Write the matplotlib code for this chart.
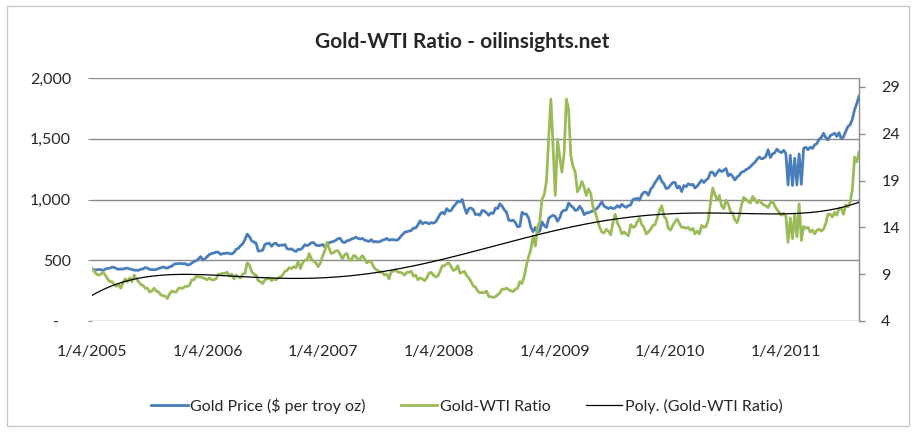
import numpy as np
import pandas as pd
import matplotlib
matplotlib.use("Agg")
import matplotlib.pyplot as plt
from matplotlib.patches import Rectangle
from matplotlib.ticker import FixedLocator, FuncFormatter

# Weekly observations, Tuesday closes, starting 1/4/2005
start_date = "2005-01-04"

# Gold price, $ per troy oz
gold_2005 = [428, 422, 421, 424, 423, 414, 427, 433, 435, 443, 441, 431, 426,
             428, 427, 433, 435, 428, 425, 418, 418, 417, 426, 428, 440, 436,
             424, 423, 422, 424, 432, 437, 445, 439, 434, 446, 451, 468, 471,
             472, 474, 470, 472, 462, 463, 477, 489, 495, 511, 530, 501, 513]
gold_2006 = [530, 548, 555, 560, 568, 566, 548, 555, 556, 560, 555, 552, 563,
             590, 598, 620, 636, 670, 715, 695, 660, 650, 640, 575, 578, 582,
             630, 638, 640, 615, 636, 640, 620, 624, 623, 630, 595, 590, 594,
             580, 572, 590, 588, 603, 628, 620, 629, 645, 645, 625, 620, 622]
gold_2007 = [630, 610, 628, 645, 650, 655, 665, 678, 680, 650, 646, 660, 663,
             675, 680, 690, 680, 675, 680, 665, 660, 655, 670, 650, 655, 650,
             655, 665, 670, 680, 665, 670, 670, 665, 668, 690, 710, 730, 735,
             740, 745, 765, 765, 790, 825, 800, 810, 810, 800, 810, 805, 815]
gold_2008 = [845, 880, 895, 880, 925, 905, 910, 940, 960, 985, 980, 1000, 935,
             885, 925, 930, 915, 875, 880, 870, 910, 905, 890, 870, 890, 885,
             930, 925, 965, 945, 915, 895, 830, 825, 830, 810, 775, 780, 895, 880,
             880, 845, 770, 735, 770, 730, 740, 815, 785, 770, 845, 860, 870]
gold_2009 = [860, 820, 850, 900, 910, 915, 970, 950, 935, 910, 915, 945, 920,
             875, 890, 890, 900, 905, 915, 930, 955, 980, 945, 935, 925, 935,
             925, 930, 950, 935, 960, 945, 935, 950, 955, 1000, 1005, 1010, 995,
             1040, 1060, 1060, 1035, 1085, 1105, 1140, 1165, 1195, 1150, 1130, 1090, 1095]
gold_2010 = [1120, 1140, 1140, 1095, 1110, 1065, 1115, 1105, 1130, 1120, 1125, 1095, 1110,
             1135, 1160, 1140, 1160, 1175, 1225, 1225, 1195, 1220, 1245, 1230, 1240, 1255,
             1195, 1210, 1190, 1160, 1185, 1200, 1225, 1230, 1245, 1255, 1270, 1290, 1305,
             1330, 1350, 1335, 1340, 1355, 1410, 1345, 1375, 1385, 1415, 1395, 1385, 1405]
gold_2011 = [1380, 1120, 1365, 1115, 1340, 1120, 1375, 1125, 1420, 1430, 1410, 1430, 1420,
             1450, 1460, 1495, 1510, 1545, 1510, 1490, 1525, 1535, 1545, 1520, 1550, 1500,
             1515, 1560, 1600, 1615, 1660, 1740, 1790, 1850]

# Gold-WTI ratio (gold price over WTI crude price per barrel)
ratio_2005 = [9.6, 9.3, 9.0, 8.9, 9.0, 9.2, 8.9, 8.5, 8.2, 8.2, 7.9, 7.7, 7.9,
              7.5, 8.1, 8.5, 8.2, 8.6, 8.2, 8.9, 8.5, 8.2, 7.9, 7.8, 7.5, 7.5,
              7.1, 7.2, 7.5, 7.2, 7.1, 6.8, 6.7, 6.65, 6.4, 6.9, 7.2, 7.1, 7.1,
              7.5, 7.5, 7.5, 7.7, 7.7, 7.8, 8.4, 8.4, 8.8, 8.7, 8.7, 8.6, 8.55]
ratio_2006 = [8.4, 8.6, 8.4, 8.4, 8.5, 9.0, 9.0, 9.1, 9.1, 9.2, 8.8, 9.0, 8.5,
              8.9, 8.7, 8.6, 9.0, 9.1, 10.2, 10.0, 9.3, 9.0, 8.9, 8.3, 8.2, 8.0,
              8.4, 8.5, 8.6, 8.3, 8.5, 8.4, 8.6, 8.7, 8.9, 9.3, 9.4, 9.7, 9.6,
              9.8, 9.7, 10.35, 9.6, 10.2, 10.5, 10.5, 11.2, 10.6, 10.4, 10.2, 9.8, 10.2]
ratio_2007 = [10.9, 11.5, 12.4, 11.7, 11.2, 11.3, 11.5, 11.5, 11.1, 10.6, 11.1, 11.2, 10.5,
              10.5, 11.0, 10.9, 10.5, 10.7, 11.0, 10.6, 10.2, 10.4, 10.3, 9.8, 9.5, 9.4,
              9.2, 9.2, 8.9, 9.0, 8.5, 9.3, 9.3, 9.5, 9.2, 9.2, 9.1, 8.9, 9.2,
              9.2, 9.3, 8.8, 8.9, 8.4, 8.6, 8.5, 8.3, 8.6, 9.1, 9.2, 8.9, 8.7]
ratio_2008 = [8.8, 9.3, 9.9, 9.9, 10.1, 10.2, 9.8, 9.4, 9.5, 9.9, 9.1, 9.2, 9.3,
              8.85, 8.6, 8.2, 7.75, 7.6, 7.2, 7.0, 7.05, 7.0, 7.2, 6.6, 6.6, 6.5,
              6.6, 6.8, 7.0, 7.4, 7.4, 7.5, 7.35, 7.2, 7.15, 7.4, 7.5, 8.2, 8.0, 8.8,
              10.0, 10.9, 11.7, 13.1, 12.0, 14.0, 14.6, 17.0, 17.5, 18.9, 23.5, 27.7, 22.5]
ratio_2009 = [17.4, 23.4, 21.5, 19.9, 22.0, 27.7, 26.6, 21.6, 20.5, 19.9, 17.8, 18.2, 18.9,
              18.3, 17.4, 18.1, 17.6, 16.2, 15.6, 14.8, 14.0, 13.5, 13.4, 13.8, 13.6, 13.2,
              14.5, 15.4, 14.5, 14.0, 13.3, 13.5, 13.3, 13.1, 14.3, 14.0, 14.1, 14.6, 15.0,
              14.3, 14.0, 13.3, 13.5, 13.8, 14.2, 14.3, 15.0, 15.8, 16.3, 15.2, 14.9, 13.9]
ratio_2010 = [13.7, 14.2, 14.6, 14.9, 14.4, 14.0, 14.0, 13.9, 14.0, 13.7, 13.9, 13.3, 13.6,
              13.3, 14.2, 14.0, 14.1, 14.8, 16.6, 18.2, 17.5, 16.9, 17.4, 16.3, 16.0, 16.9,
              16.5, 15.7, 15.5, 14.8, 14.5, 15.2, 16.4, 17.2, 17.0, 16.8, 16.6, 17.3, 17.0,
              16.6, 16.9, 16.6, 16.4, 16.3, 16.1, 16.6, 16.8, 16.3, 15.9, 15.6, 15.3, 15.5]
ratio_2011 = [15.2, 12.4, 15.0, 12.8, 15.4, 13.0, 16.5, 12.6, 14.1, 13.9, 14.0, 13.5, 13.7,
              13.3, 13.7, 13.8, 13.6, 13.8, 14.4, 15.4, 15.4, 15.1, 15.6, 15.3, 16.0, 16.0,
              15.4, 16.4, 16.2, 16.7, 18.0, 21.5, 21.0, 22.0]

tick_years = [2005, 2006, 2007, 2008, 2009, 2010, 2011]
gold_ticks = [0, 500, 1000, 1500, 2000]
ratio_ticks = [4, 9, 14, 19, 24, 29]
trend_order = 5

series_gold = gold_2005 + gold_2006 + gold_2007 + gold_2008 + gold_2009 + gold_2010 + gold_2011
series_ratio = ratio_2005 + ratio_2006 + ratio_2007 + ratio_2008 + ratio_2009 + ratio_2010 + ratio_2011
dates = pd.date_range(start_date, periods=len(series_gold), freq="7D")

# Polynomial trendline of the ratio over observation index
idx = np.arange(1, len(series_ratio) + 1, dtype=float)
u = (idx - idx.mean()) / idx.std()
coef = np.polyfit(u, np.array(series_ratio), trend_order)
trend = np.polyval(coef, u)

TXT = "#262626"
GRID = "#8a8a8a"
BLUE = "#4a7ebb"
GREEN = "#9bbb59"

plt.rcParams["font.family"] = ["Lato", "DejaVu Sans"]

W, H = 915, 432
fig = plt.figure(figsize=(W / 100, H / 100), dpi=100)
fig.patch.set_facecolor("white")

# chart border
fig.patches.append(Rectangle((7 / W, 1 - 426 / H), (909 - 7) / W, (426 - 6) / H,
                             transform=fig.transFigure, fill=False,
                             edgecolor="#c8c8c8", lw=1.0))

ax = fig.add_axes([92 / W, 1 - 321 / H, (859 - 92) / W, (321 - 78) / H])
ax2 = ax.twinx()

l1, = ax.plot(dates, series_gold, color=BLUE, lw=2.0, solid_joinstyle="round",
              label="Gold Price ($ per troy oz)", zorder=3)
l2, = ax2.plot(dates, series_ratio, color=GREEN, lw=2.0, solid_joinstyle="round",
               label="Gold-WTI Ratio", zorder=3)
l3, = ax2.plot(dates, trend, color="black", lw=0.9,
               label="Poly. (Gold-WTI Ratio)", zorder=4)

ax.set_xlim(dates[0], dates[-1])
ax.set_ylim(0, 2000)
ax2.set_ylim(4, 29.95)

ax.yaxis.set_major_locator(FixedLocator(gold_ticks))
ax.yaxis.set_major_formatter(FuncFormatter(lambda v, p: "-   " if v == 0 else f"{int(v):,}"))
ax2.yaxis.set_major_locator(FixedLocator(ratio_ticks))

xt = [pd.Timestamp(f"{y}-01-04") for y in tick_years]
ax.set_xticks(xt)
ax.set_xticklabels([f"1/4/{y}" for y in tick_years])

ax.yaxis.grid(True, color=GRID, lw=1.0)
ax.set_axisbelow(True)

for s in ["top", "bottom", "left", "right"]:
    ax.spines[s].set_visible(False)
for s in ["top", "bottom", "left"]:
    ax2.spines[s].set_visible(False)
ax2.spines["right"].set_color(GRID)
ax2.spines["right"].set_linewidth(1.0)

ax.tick_params(axis="x", length=0, pad=17, labelsize=11.5, labelcolor=TXT)
ax.tick_params(axis="y", length=3, color=GRID, pad=12, labelsize=11.5, labelcolor=TXT)
ax2.tick_params(axis="y", length=4, color=GRID, width=1.0, pad=12, labelsize=11.5, labelcolor=TXT)

fig.text(0.505, 1 - 42 / H, "Gold-WTI Ratio - oilinsights.net", ha="center", va="center",
         fontsize=15, fontweight="bold", color=TXT)

fig.legend(handles=[l1, l2, l3], loc="center", bbox_to_anchor=(0.510, 1 - 406 / H),
           ncol=3, frameon=False, fontsize=11.5, handlelength=2.3, handletextpad=0.15,
           columnspacing=2.2, labelcolor=TXT)

fig.savefig("out.png", dpi=100, facecolor="white")
